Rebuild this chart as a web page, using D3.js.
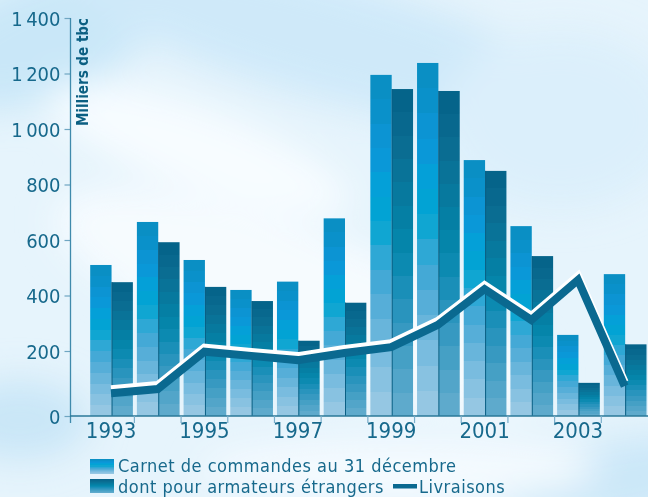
<!DOCTYPE html>
<html>
<head>
<meta charset="utf-8">
<script src="https://cdn.jsdelivr.net/npm/d3@7"></script>
<style>
  body { margin: 0; overflow: hidden; background: #eaf6fc; }
  svg { display: block; }
</style>
</head>
<body>
<svg id="chart"></svg>
<script>
const years = [1993, 1994, 1995, 1996, 1997, 1998, 1999, 2000, 2001, 2002, 2003, 2004];
const carnet = [510, 665, 528, 420, 450, 678, 1195, 1238, 888, 650, 258, 477];
const etrangers = [448, 592, 431, 380, 237, 374, 1144, 1137, 849, 542, 102, 224];
const livraisons = [70, 83, 198, 185, 172, 194, 214, 294, 423, 312, 456, 92];
const yTicks = [0, 200, 400, 600, 800, 1000, 1200, 1400];
const yearLabels = [1993, 1995, 1997, 1999, 2001, 2003];

const width = 648;
const height = 497;
const font = "'Liberation Sans Narrow', 'DejaVu Sans Condensed', 'Arial Narrow', sans-serif";
const textColor = "#17698c";

const svg = d3.select("#chart").attr("width", width).attr("height", height);
const defs = svg.append("defs");

// sky background
const blur = defs.append("filter").attr("id", "blur")
  .attr("x", "-50%").attr("y", "-50%").attr("width", "200%").attr("height", "200%");
blur.append("feGaussianBlur").attr("stdDeviation", 18);

svg.append("rect").attr("width", width).attr("height", height).attr("fill", "#e6f4fc");
const sky = svg.append("g").attr("filter", "url(#blur)");
const clouds = [
  [40, 40, 120, 60, -20, "#c9e7f8"],
  [330, 40, 280, 60, 15, "#cfe9f9"],
  [560, 120, 120, 90, 0, "#dbeffb"],
  [20, 420, 70, 40, 0, "#c9e6f7"],
  [620, 480, 120, 40, -10, "#cbe7f8"],
  [300, 300, 260, 70, 20, "#f6fbfe"],
  [200, 150, 160, 40, 20, "#f7fcff"],
  [400, 470, 200, 30, 0, "#f4fafe"]
];
clouds.forEach(([cx, cy, rx, ry, rot, c]) => {
  sky.append("ellipse").attr("cx", cx).attr("cy", cy).attr("rx", rx).attr("ry", ry)
    .attr("transform", `rotate(${rot},${cx},${cy})`).attr("fill", c);
});

// stepped gradients
const lightSteps = ["#95c7e3", "#88c2e1", "#79bcdf", "#68b5db", "#56aed8", "#44a9d6", "#2ea8d5",
  "#10a6d2", "#02a3d4", "#04a0d8", "#0a98d8", "#0c94d3", "#0a91ca", "#0a8fc4"];
const darkSteps = ["#5eaacc", "#52a5c9", "#45a0c5", "#3799c1", "#2994bd", "#1a8fb8", "#0c8ab1",
  "#0585aa", "#057fa4", "#07799e", "#097398", "#0a6d92", "#08688e", "#05648a"];

function steppedGradient(id, colors) {
  const g = defs.append("linearGradient").attr("id", id)
    .attr("x1", 0).attr("y1", 1).attr("x2", 0).attr("y2", 0);
  const n = colors.length;
  colors.forEach((c, i) => {
    g.append("stop").attr("offset", i / n).attr("stop-color", c);
    g.append("stop").attr("offset", (i + 1) / n).attr("stop-color", c);
  });
}
steppedGradient("gLight", lightSteps);
steppedGradient("gDark", darkSteps);

// scales (the original axis puts 0 a bit lower than the regular 200 step)
const y = d3.scaleLinear().domain([0, 200, 1400]).range([416, 351, 18]);
const x = d3.scaleBand().domain(years).range([87.7, 648]).padding(0);
const xs = d3.scaleBand().domain(["carnet", "etrangers"]).range([2.5, x.bandwidth() - 1.5]);

// y axis
const yAxis = svg.append("g").attr("transform", "translate(70.5,0)")
  .call(d3.axisLeft(y).tickValues(yTicks).tickSize(6).tickPadding(4)
    .tickFormat(d => d3.format(",")(d).replace(",", "\u2009")));
yAxis.select(".domain").remove();
yAxis.selectAll(".tick line").attr("stroke", "#6fa6c2").attr("stroke-width", 1.2);
yAxis.selectAll(".tick text").attr("fill", textColor).attr("font-family", font)
  .attr("font-size", 20).attr("dy", "0.36em");
svg.append("line").attr("x1", 70.5).attr("x2", 70.5).attr("y1", 18).attr("y2", 423)
  .attr("stroke", "#3f8aac").attr("stroke-width", 1.3);

svg.append("text")
  .attr("transform", "translate(88,18) rotate(-90)")
  .attr("text-anchor", "end")
  .attr("font-family", font).attr("font-weight", "bold").attr("font-size", 15)
  .attr("fill", "#0b5f82")
  .text("Milliers de tbc");

// bars
const groups = svg.append("g").selectAll("g")
  .data(years.map((yr, i) => ({ yr, carnet: carnet[i], etrangers: etrangers[i] })))
  .join("g")
  .attr("transform", d => `translate(${x(d.yr)},0)`);

groups.append("rect")
  .attr("x", xs("carnet")).attr("width", xs.bandwidth())
  .attr("y", d => y(d.carnet)).attr("height", d => y(0) - y(d.carnet))
  .attr("fill", "url(#gLight)");

groups.append("rect")
  .attr("x", xs("etrangers")).attr("width", xs.bandwidth())
  .attr("y", d => y(d.etrangers)).attr("height", d => y(0) - y(d.etrangers))
  .attr("fill", "url(#gDark)");

groups.append("line")
  .attr("x1", xs("etrangers") + 0.5).attr("x2", xs("etrangers") + 0.5)
  .attr("y1", d => y(d.etrangers)).attr("y2", y(0))
  .attr("stroke", "#0a5f84").attr("stroke-width", 1);

// x axis
svg.append("line").attr("x1", 70).attr("x2", width).attr("y1", 416).attr("y2", 416)
  .attr("stroke", "#2a7898").attr("stroke-width", 1.3);
svg.append("g").selectAll("line")
  .data(years.slice(1))
  .join("line")
  .attr("x1", d => x(d)).attr("x2", d => x(d))
  .attr("y1", 416).attr("y2", 423)
  .attr("stroke", "#7aaecb").attr("stroke-width", 1.2);
svg.append("g").selectAll("text")
  .data(yearLabels)
  .join("text")
  .attr("x", d => x(d) + x.bandwidth() / 2)
  .attr("y", 438)
  .attr("text-anchor", "middle")
  .attr("font-family", font).attr("font-size", 22)
  .attr("fill", textColor)
  .text(d => d);

// livraisons line
const line = d3.line()
  .x((d, i) => x(years[i]) + x.bandwidth() / 2)
  .y(d => y(d));

svg.append("path").datum(livraisons)
  .attr("d", line)
  .attr("transform", "translate(0,-4)")
  .attr("fill", "none").attr("stroke", "#ffffff").attr("stroke-width", 8)
  .attr("stroke-linejoin", "miter");
svg.append("path").datum(livraisons)
  .attr("d", line)
  .attr("fill", "none").attr("stroke", "#0a6990").attr("stroke-width", 8)
  .attr("stroke-linejoin", "miter");

// legend
const legend = svg.append("g");
legend.append("rect").attr("x", 90).attr("y", 459).attr("width", 24).attr("height", 15)
  .attr("fill", "url(#gLight)");
legend.append("rect").attr("x", 90).attr("y", 479).attr("width", 24).attr("height", 14)
  .attr("fill", "url(#gDark)");
legend.append("rect").attr("x", 393).attr("y", 484).attr("width", 24).attr("height", 4.5)
  .attr("fill", "#0a6990");

const legendText = [
  ["Carnet de commandes au 31 décembre", 118, 471.5],
  ["dont pour armateurs étrangers", 118, 493],
  ["Livraisons", 419, 493]
];
legend.selectAll("text")
  .data(legendText)
  .join("text")
  .attr("x", d => d[1]).attr("y", d => d[2])
  .attr("font-family", font).attr("font-size", 18)
  .attr("letter-spacing", 0.5)
  .attr("fill", textColor)
  .text(d => d[0]);
</script>
</body>
</html>
